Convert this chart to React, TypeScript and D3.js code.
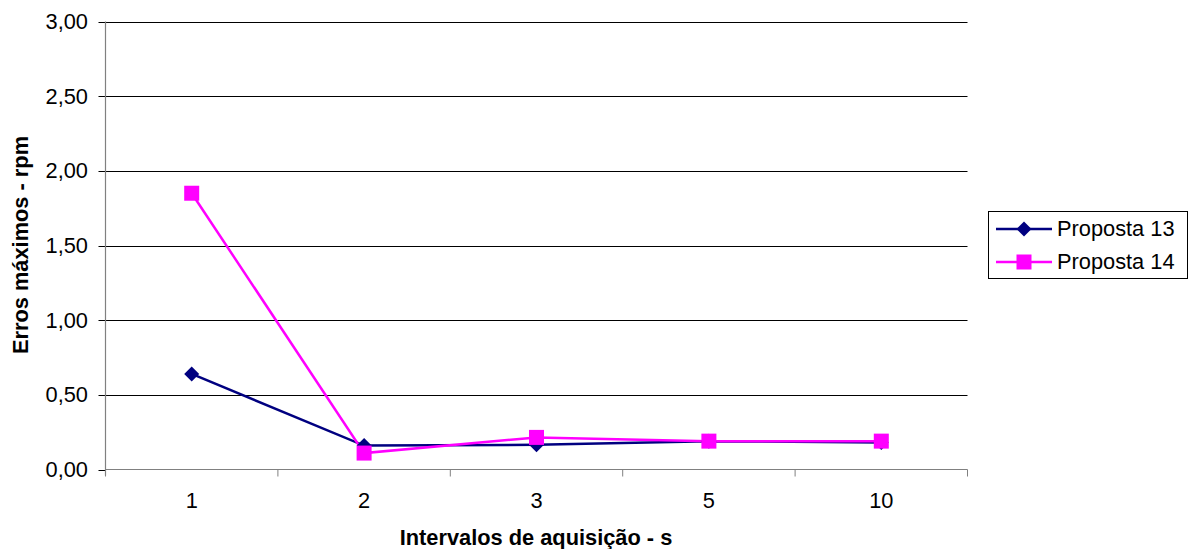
import React from "react";
import * as d3 from "d3";

const categories = ["1", "2", "3", "5", "10"];
const proposta13 = [0.64, 0.16, 0.165, 0.19, 0.18];
const proposta14 = [1.85, 0.11, 0.215, 0.19, 0.19];
const yTicks = [0, 0.5, 1, 1.5, 2, 2.5, 3];

const W = 1194, H = 549;
const left = 105.5, right = 967.5, top = 21.5, bottom = 469.5;
const font = "'Liberation Sans', Arial, sans-serif";
const FS = 21.8;

export default function App() {
  const x = d3.scaleBand<string>().domain(categories).range([left, right]).padding(0);
  const y = d3.scaleLinear().domain([0, 3]).range([bottom, top]);
  const cx = (c: string) => (x(c) as number) + x.bandwidth() / 2;
  const line = d3.line<number>().x((_, i) => cx(categories[i])).y((d) => y(d));
  const fmt = (v: number) => v.toFixed(2).replace(".", ",");
  const bounds = categories.map((c) => x(c) as number).concat([right]);
  const diamond = (px: number, py: number, r: number) =>
    `M${px},${py - r}L${px + r},${py}L${px},${py + r}L${px - r},${py}Z`;

  return (
    <svg width={W} height={H} style={{ display: "block", position: "absolute", left: 0, top: 0 }} fontFamily={font}>
      <rect width={W} height={H} fill="#fff" />
      {yTicks.map((t) => (
        <g key={t}>
          {t > 0 && <line x1={left} x2={right} y1={Math.round(y(t)) + 0.5} y2={Math.round(y(t)) + 0.5} stroke="#000" strokeWidth={1} />}
          <line x1={left - 7} x2={left} y1={Math.round(y(t)) + 0.5} y2={Math.round(y(t)) + 0.5} stroke="#000" />
          <text x={88} y={y(t) + 7.5} textAnchor="end" fontSize={FS} fill="#000">{fmt(t)}</text>
        </g>
      ))}
      <line x1={left} x2={left} y1={top} y2={bottom + 6} stroke="#808080" strokeWidth={1.2} />
      <line x1={left} x2={right} y1={bottom} y2={bottom} stroke="#808080" strokeWidth={1.2} />
      {bounds.map((b, i) => (
        <line key={i} x1={b} x2={b} y1={bottom} y2={bottom + 7} stroke="#808080" />
      ))}
      {categories.map((c) => (
        <text key={c} x={cx(c)} y={508} textAnchor="middle" fontSize={FS} fill="#000">{c}</text>
      ))}
      <path d={line(proposta13) || ""} fill="none" stroke="#000080" strokeWidth={2.5} />
      <path d={line(proposta14) || ""} fill="none" stroke="#FF00FF" strokeWidth={2.5} />
      {proposta13.map((v, i) => (
        <path key={"d" + i} d={diamond(cx(categories[i]), y(v), 7.5)} fill="#000080" />
      ))}
      {proposta14.map((v, i) => (
        <rect key={"s" + i} x={cx(categories[i]) - 7.5} y={y(v) - 7.5} width={15} height={15} fill="#FF00FF" />
      ))}
      <text x={536} y={545} textAnchor="middle" fontSize={FS} fontWeight="bold" fill="#000">Intervalos de aquisição - s</text>
      <text transform={`translate(28,245) rotate(-90)`} textAnchor="middle" fontSize={FS} fontWeight="bold" fill="#000">Erros máximos - rpm</text>
      <g>
        <rect x={988.5} y={211.5} width={199} height={67} fill="#fff" stroke="#000" strokeWidth={1} />
        <line x1={996} x2={1052} y1={229} y2={229} stroke="#000080" strokeWidth={2.5} />
        <path d={diamond(1024, 229, 7.5)} fill="#000080" />
        <text x={1057} y={236} fontSize={FS} fill="#000">Proposta 13</text>
        <line x1={996} x2={1052} y1={262} y2={262} stroke="#FF00FF" strokeWidth={2.5} />
        <rect x={1016.5} y={254.5} width={15} height={15} fill="#FF00FF" />
        <text x={1057} y={269} fontSize={FS} fill="#000">Proposta 14</text>
      </g>
    </svg>
  );
}
